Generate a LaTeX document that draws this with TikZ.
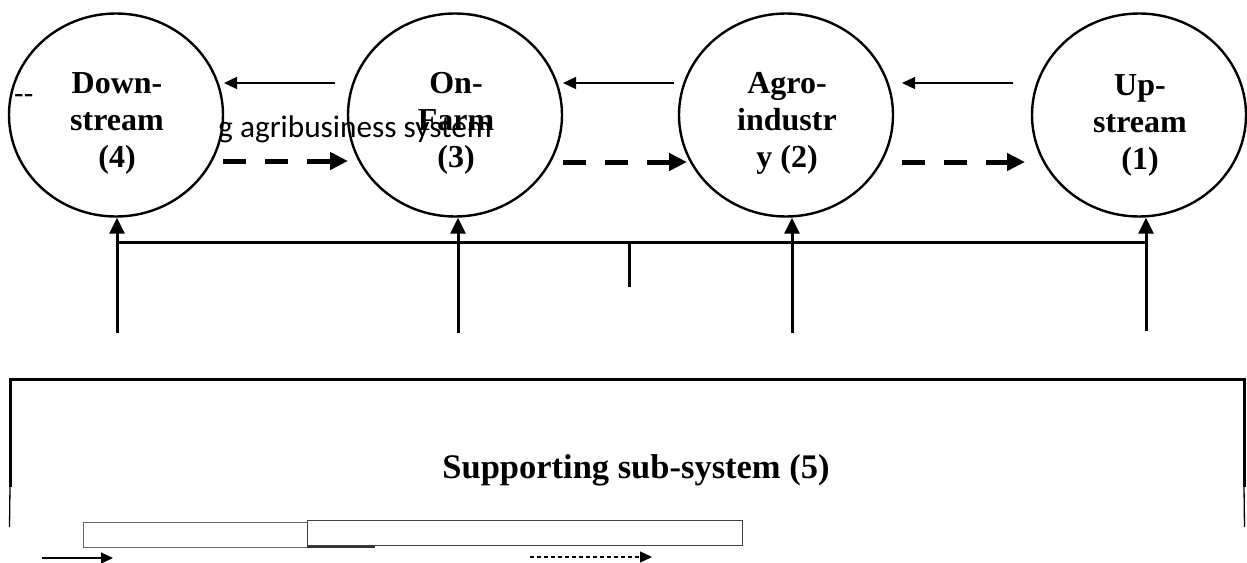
\documentclass[tikz,border=0pt]{standalone}
\usepackage{fontspec}
\setmainfont{Liberation Serif}
\newfontfamily\calib{Carlito}
\usetikzlibrary{shapes.geometric,arrows.meta}
\begin{document}
\begin{tikzpicture}[x=1pt,y=-1pt,
  stage/.style={draw, ellipse, line width=2.4pt, minimum width=214pt, minimum height=203pt, inner sep=0pt},
  ctext/.style={font=\bfseries\fontsize{32}{37}\selectfont, align=center, inner sep=0pt},
  backflow/.style={line width=1.3pt, -{Triangle[length=13pt,width=12pt]}},
  fwdflow/.style={line width=5pt, dash pattern=on 23pt off 19pt, -{Triangle[length=18pt,width=17pt]}},
  support/.style={line width=3pt, -{Triangle[length=16pt,width=15pt]}},
  frame/.style={line width=3pt},
  smallbox/.style={draw=black!75, line width=1pt}
]
\useasboundingbox (0,0) rectangle (1247,562);

% background sans text (partly overlapped by circles)
\node[font=\calib\fontsize{31.3}{36}\selectfont, anchor=base west, inner sep=0pt] (sys) at (218,137) {g agribusiness system};
\node[font=\calib\fontsize{31.3}{36}\selectfont, anchor=base west, inner sep=0pt] (dd) at (14,104) {-{}-};

% stages
\node[stage] (down) at (116,115) {};
\node[stage] (on) at (455,115) {};
\node[stage] (agro) at (786,115) {};
\node[stage] (up) at (1139,115) {};

\node[ctext] (downT) at ([yshift=-8.5pt,xshift=1pt]down.center) {Down-\\stream\\(4)};
\node[ctext] (onT) at ([yshift=-8.5pt,xshift=1pt]on.center) {On-\\Farm\\(3)};
\node[ctext] (agroT) at ([yshift=-8pt,xshift=1pt]agro.center) {Agro-\\industr\\y (2)};
\node[ctext] (upT) at ([yshift=-10pt,xshift=1pt]up.center) {Up-\\stream\\(1)};

% backward flows (thin, pointing left)
\coordinate (b1s) at (335,83); \coordinate (b1e) at (224,83);
\coordinate (b2s) at (674,83); \coordinate (b2e) at (563,83);
\coordinate (b3s) at (1013,83); \coordinate (b3e) at (902,83);
\draw[backflow] (b1s) -- (b1e);
\draw[backflow] (b2s) -- (b2e);
\draw[backflow] (b3s) -- (b3e);

% forward flows (thick dashed, pointing right)
\coordinate (f1s) at (223,161); \coordinate (f1e) at (348,161);
\coordinate (f2s) at (563,162); \coordinate (f2e) at (687,162);
\coordinate (f3s) at (902,162); \coordinate (f3e) at (1025,162);
\draw[fwdflow] (f1s) -- (f1e);
\draw[fwdflow] (f2s) -- (f2e);
\draw[fwdflow] (f3s) -- (f3e);

% supporting arrows
\coordinate (v1) at (117,333);
\coordinate (v2) at (458,333);
\coordinate (v3) at (792,333);
\coordinate (v4) at (1146,331);
\draw[support] (v1) -- (v1 |- down.south);
\draw[support] (v2) -- (v2 |- on.south);
\draw[support] (v3) -- (v3 |- agro.south);
\draw[support] (v4) -- (v4 |- up.south);

% horizontal connector and tick
\coordinate (h1) at (117,242);
\coordinate (h2) at (1146,242);
\coordinate (t1) at (629,242);
\coordinate (t2) at (629,287);
\draw[line width=3pt] (h1) -- (h2);
\draw[line width=3pt] (t1) -- (t2);

% supporting sub-system frame
\coordinate (fl1) at (10,487); \coordinate (fr1) at (1244,487);
\draw[frame] (fl1) -- (10,379) -- (1244,379) -- (fr1);
\draw[line width=1.3pt] (fl1) -- (9.5,527);
\draw[line width=1.3pt] (fr1) -- (1244.5,527);
\node[font=\bfseries\fontsize{34.5}{40}\selectfont, anchor=base, inner sep=0pt] (sup) at (636,478) {Supporting sub-system (5)};

% small boxes at bottom
\node[smallbox, draw=black!60, minimum width=224pt, minimum height=25pt, inner sep=0pt] (r1) at (195,534.5) {};
\node[smallbox, minimum width=435pt, minimum height=25pt, inner sep=0pt] (r2) at (524.5,532.5) {};
\draw[line width=2pt, black!80] (r2.south west) ++(0,1) -- ++(68,0);

% legend arrows
\coordinate (ls1) at (42,558); \coordinate (le1) at (113,558);
\coordinate (ls2) at (530,557); \coordinate (le2) at (652,557);
\draw[line width=1.2pt, -{Triangle[length=12pt,width=11pt]}] (ls1) -- (le1);
\draw[line width=1.2pt, dash pattern=on 4pt off 3pt, -{Triangle[length=12pt,width=11pt]}] (ls2) -- (le2);
\end{tikzpicture}
\end{document}
